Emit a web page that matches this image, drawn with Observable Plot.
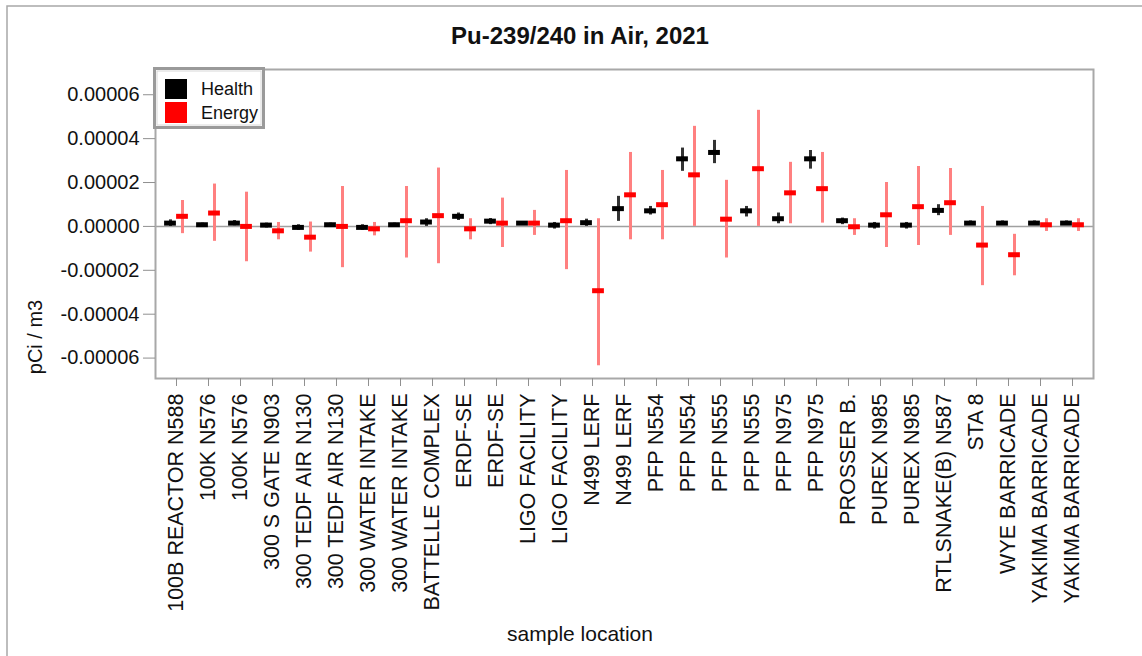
<!DOCTYPE html>
<html>
<head>
<meta charset="utf-8">
<script src="https://cdn.jsdelivr.net/npm/d3@7"></script>
<script src="https://cdn.jsdelivr.net/npm/@observablehq/plot@0.6"></script>
<style>
  html, body { margin: 0; padding: 0; background: #fff; }
  #wrap { position: relative; width: 1142px; height: 656px; overflow: hidden; font-family: "Liberation Sans", Arial, sans-serif; }
  #chart { position: absolute; left: 0; top: 0; }
  #overlay { position: absolute; left: 0; top: 0; pointer-events: none; }
</style>
</head>
<body>
<div id="wrap">
  <div id="chart"></div>
  <svg id="overlay" width="1142" height="656" font-family="Liberation Sans, Arial, sans-serif">
    <rect x="7" y="6" width="1160" height="700" fill="none" stroke="#a8a8a8" stroke-width="1.5"></rect>
    <text x="580" y="44" text-anchor="middle" font-size="24" font-weight="bold" fill="#111">Pu-239/240 in Air, 2021</text>
    <text transform="translate(42,337) rotate(-90)" text-anchor="middle" font-size="20" fill="#111">pCi / m3</text>
    <text x="580" y="641" text-anchor="middle" font-size="21" fill="#111">sample location</text>
    <g id="legend">
      <rect x="154.5" y="68.5" width="109" height="59" fill="#fff" stroke="#9a9a9a" stroke-width="3"></rect>
      <rect x="157" y="71" width="104" height="54" fill="none" stroke="#d8d8d8" stroke-width="1"></rect>
      <rect x="165" y="79" width="22" height="20" fill="#000"></rect>
      <rect x="165" y="102" width="22" height="21" fill="#ff0000"></rect>
      <text x="201" y="95" font-size="18" fill="#111">Health</text>
      <text x="201" y="119" font-size="18" fill="#111">Energy</text>
    </g>
  </svg>
</div>
<script>
const labels = [
  "100B REACTOR N588","100K N576","100K N576","300 S GATE N903","300 TEDF AIR N130",
  "300 TEDF AIR N130","300 WATER INTAKE","300 WATER INTAKE","BATTELLE COMPLEX","ERDF-SE",
  "ERDF-SE","LIGO FACILITY","LIGO FACILITY","N499 LERF","N499 LERF",
  "PFP N554","PFP N554","PFP N555","PFP N555","PFP N975",
  "PFP N975","PROSSER B.","PUREX N985","PUREX N985","RTLSNAKE(B) N587",
  "STA 8","WYE BARRICADE","YAKIMA BARRICADE","YAKIMA BARRICADE"
];
const healthMean = [1.5e-6,0.76e-6,1.5e-6,0.6e-6,-0.45e-6,0.76e-6,-0.45e-6,0.76e-6,2.0e-6,4.6e-6,
  2.4e-6,1.5e-6,0.6e-6,1.7e-6,8.1e-6,7.1e-6,30.8e-6,33.7e-6,7.1e-6,3.5e-6,
  30.8e-6,2.6e-6,0.6e-6,0.6e-6,7.3e-6,1.5e-6,1.5e-6,1.5e-6,1.5e-6];
const healthLow = [0,0,0.3e-6,-0.7e-6,-1.8e-6,0,-1.8e-6,0,0,2.7e-6,
  0.8e-6,0.5e-6,-1.2e-6,0,2.3e-6,5.2e-6,25.1e-6,28.6e-6,4.3e-6,1.2e-6,
  26.1e-6,0.8e-6,-1.2e-6,-1.2e-6,4.9e-6,0.5e-6,0.5e-6,0.5e-6,0.5e-6];
const healthHigh = [3.0e-6,1.5e-6,2.7e-6,1.5e-6,0.76e-6,1.5e-6,0.76e-6,1.5e-6,3.5e-6,6.1e-6,
  3.6e-6,2.2e-6,1.8e-6,3.3e-6,13.7e-6,9.1e-6,35.7e-6,39.2e-6,9.1e-6,6.1e-6,
  34.6e-6,3.8e-6,1.8e-6,1.8e-6,9.9e-6,2.5e-6,2.5e-6,2.5e-6,2.5e-6];
const energyMean = [4.6e-6,6.1e-6,0,-2.0e-6,-4.9e-6,0,-1.1e-6,2.6e-6,4.9e-6,-1.1e-6,
  1.5e-6,1.5e-6,2.6e-6,-29.3e-6,14.4e-6,9.9e-6,23.5e-6,3.3e-6,26.3e-6,15.3e-6,
  17.2e-6,-0.15e-6,5.3e-6,9.0e-6,10.8e-6,-8.5e-6,-12.9e-6,0.76e-6,0.76e-6];
const energyLow = [-3.3e-6,-6.8e-6,-16.1e-6,-6.1e-6,-11.7e-6,-18.8e-6,-4.3e-6,-14.4e-6,-17.0e-6,-6.1e-6,
  -9.6e-6,-4.1e-6,-19.7e-6,-63.5e-6,-6.1e-6,-6.1e-6,0,-14.4e-6,0,1.2e-6,
  1.5e-6,-4.1e-6,-9.6e-6,-8.7e-6,-4.1e-6,-27.0e-6,-22.5e-6,-2.3e-6,-2.3e-6];
const energyHigh = [11.8e-6,19.3e-6,15.6e-6,1.8e-6,2.0e-6,18.2e-6,1.8e-6,18.2e-6,26.6e-6,3.5e-6,
  12.9e-6,7.3e-6,25.5e-6,3.5e-6,33.7e-6,25.5e-6,45.6e-6,21.0e-6,52.9e-6,29.2e-6,
  33.7e-6,3.5e-6,20.0e-6,27.3e-6,26.4e-6,9.1e-6,-3.6e-6,3.5e-6,3.5e-6];
const yTicks = [-6e-5,-4e-5,-2e-5,0,2e-5,4e-5,6e-5];

const rows = labels.map((lab, i) => ({
  i, lab,
  h: healthMean[i], hlo: healthLow[i], hhi: healthHigh[i],
  e: energyMean[i], elo: energyLow[i], ehi: energyHigh[i]
}));

const chart = Plot.plot({
  width: 1142,
  height: 656,
  marginLeft: 155,
  marginRight: 49,
  marginTop: 69,
  marginBottom: 278,
  style: {fontFamily: "Liberation Sans, Arial, sans-serif", background: "transparent", overflow: "visible"},
  x: {type: "band", domain: d3.range(labels.length), paddingInner: 0, paddingOuter: 0.07},
  y: {domain: [-6.93e-5, 7.15e-5]},
  marks: [
    Plot.ruleY([0], {stroke: "#a0a0a0", strokeWidth: 1.5}),
    Plot.ruleX(rows, {x: "i", y1: "hlo", y2: "hhi", dx: -6, stroke: "#333", strokeWidth: 3}),
    Plot.ruleX(rows, {x: "i", y1: "elo", y2: "ehi", dx: 6, stroke: "#ff8080", strokeWidth: 3}),
    Plot.tickY(rows, {x: "i", y: "h", dx: -6, inset: 10.1, stroke: "#000", strokeWidth: 5}),
    Plot.tickY(rows, {x: "i", y: "e", dx: 6, inset: 10.1, stroke: "#ff0000", strokeWidth: 5}),
    Plot.frame({stroke: "#a8a8a8", strokeWidth: 2}),
    Plot.axisY({ticks: yTicks, tickFormat: d => d.toFixed(5), tickSize: 12, tickPadding: 4,
      fontSize: 20, stroke: "#909090", fill: "#111", label: null}),
    Plot.axisX({tickFormat: i => labels[i], tickRotate: -90, tickSize: 8, tickPadding: 7,
      fontSize: 21.5, stroke: "#909090", fill: "#111", label: null})
  ]
});
document.getElementById("chart").appendChild(chart);
</script>
</body>
</html>
